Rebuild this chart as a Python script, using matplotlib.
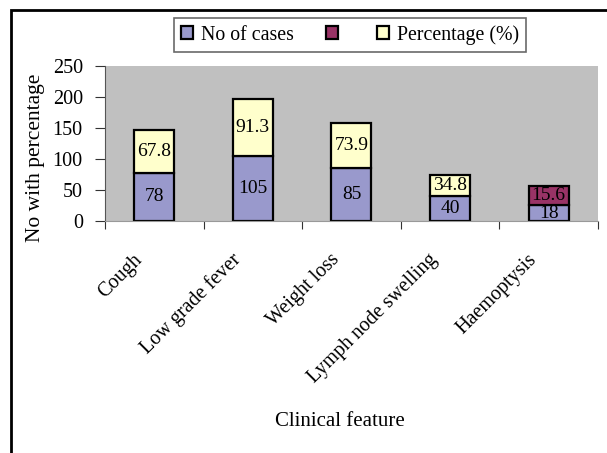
import matplotlib
matplotlib.use('Agg')
import matplotlib.pyplot as plt
from matplotlib.patches import Patch, Rectangle
from matplotlib.transforms import ScaledTranslation
import numpy as np

# data
features = ['Cough', 'Low grade fever', 'Weight loss', 'Lymph node swelling', 'Haemoptysis']
cases = [78, 105, 85, 40, 18]
percent = [67.8, 91.3, 73.9, 34.8, 15.6]
# segment heights as drawn in the picture (Haemoptysis segments are drawn taller than their values)
cases_drawn = [78, 105, 85, 41, 26]
percent_drawn = [69, 92, 74, 34, 30]

purple = '#9999CC'
maroon = '#993366'
cream = '#FFFFCC'
pct_colors = [cream, cream, cream, cream, maroon]

plt.rcParams['font.family'] = ['Liberation Serif', 'DejaVu Serif']

fig = plt.figure(figsize=(6.07, 4.53), dpi=100)
ax = fig.add_axes([0.173, 0.512, 0.812, 0.342])
ax.set_facecolor('#C0C0C0')

x = np.arange(len(features))
w = 0.405
ax.bar(x, cases_drawn, w, color=purple, edgecolor='black', linewidth=1.6)
ax.bar(x, percent_drawn, w, bottom=cases_drawn, color=pct_colors, edgecolor='black', linewidth=1.6)

for i in range(len(features)):
    ax.text(x[i], cases_drawn[i] / 2, str(cases[i]), ha='center', va='center', fontsize=14)
    ax.text(x[i], cases_drawn[i] + percent_drawn[i] / 2, f'{percent[i]:.1f}', ha='center', va='center', fontsize=14)

ax.set_xlim(-0.5, 4.5)
ax.set_ylim(0, 250)
ax.set_yticks([0, 50, 100, 150, 200, 250])
ax.tick_params(axis='y', labelsize=14.5, length=7, pad=9, direction='out', color='#333333')

# ticks at category boundaries, labels at centres
ax.set_xticks(np.arange(-0.5, 5, 1))
ax.set_xticklabels([])
ax.tick_params(axis='x', which='major', length=6, direction='out', color='#333333')
ax.set_xticks(x, minor=True)
ax.set_xticklabels(features, minor=True, rotation=45, ha='right', va='center',
                   rotation_mode='anchor', fontsize=14.5)
ax.tick_params(axis='x', which='minor', length=0, pad=26)
shift = ScaledTranslation(-0.15, 0, fig.dpi_scale_trans)
for lab in ax.get_xticklabels(minor=True):
    lab.set_transform(lab.get_transform() + shift)

for s in ['top', 'right']:
    ax.spines[s].set_visible(False)
ax.spines['left'].set_color('#555555')
ax.spines['bottom'].set_color('#999999')

ax.set_ylabel('No with percentage', fontsize=15.5)
ax.yaxis.set_label_coords(-0.122, 0.41)
ax.set_xlabel('Clinical feature', fontsize=15)
ax.xaxis.set_label_coords(0.477, -1.23)

handles = [Patch(facecolor=purple, edgecolor='black', linewidth=1.6),
           Patch(facecolor=maroon, edgecolor='black', linewidth=1.6),
           Patch(facecolor=cream, edgecolor='black', linewidth=1.6)]
leg = fig.legend(handles, ['No of cases', '', 'Percentage (%)'], loc='center',
                 bbox_to_anchor=(0.577, 0.923), ncol=3, fontsize=14.3, frameon=True,
                 fancybox=False, edgecolor='#444444', handlelength=0.6, handleheight=0.6,
                 handletextpad=0.4, columnspacing=1.6, borderpad=0.35)
leg.get_frame().set_linewidth(1.2)

# outer frame (left and top edges visible)
fig.patches.append(Rectangle((11 / 607, -0.1), 1.2, 1.1 - 10 / 453, transform=fig.transFigure,
                             fill=False, edgecolor='black', linewidth=2))

fig.savefig('out.png', dpi=100)
